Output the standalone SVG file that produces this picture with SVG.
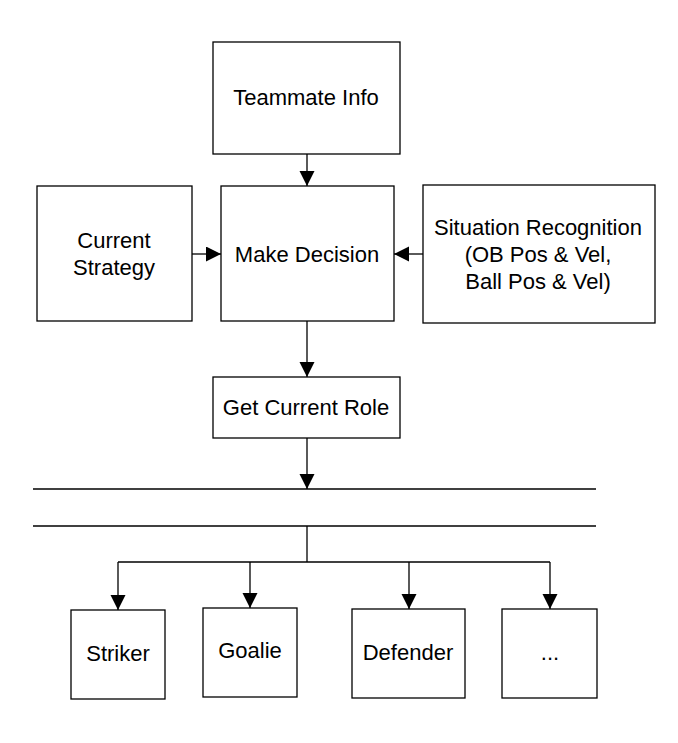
<svg xmlns="http://www.w3.org/2000/svg" width="678" height="743" viewBox="0 0 678 743">
<defs>
<marker id="ah" markerWidth="16" markerHeight="16" refX="15" refY="7.5" orient="auto" markerUnits="userSpaceOnUse"><path d="M0,0 L15,7.5 L0,15 Z" fill="#000"/></marker>
</defs>
<style>
.b{fill:#fff;stroke:#000;stroke-width:1.3}
.t{font-family:"Liberation Sans",Arial,sans-serif;font-size:22px;text-anchor:middle;fill:#000}
.c{stroke:#000;stroke-width:1.3;fill:none}
.a{marker-end:url(#ah)}
</style>
<rect width="678" height="743" fill="#fff"/>
<g id="teammate"><rect class="b" x="213" y="42" width="187" height="112"/><text class="t" x="306" y="105">Teammate Info</text></g>
<g id="strategy"><rect class="b" x="37" y="186" width="155" height="135"/><text class="t" x="114" y="248">Current</text><text class="t" x="114" y="275">Strategy</text></g>
<g id="decision"><rect class="b" x="221" y="186" width="173" height="135"/><text class="t" x="307" y="262">Make Decision</text></g>
<g id="situation"><rect class="b" x="423" y="185" width="232" height="138"/><text class="t" x="538" y="235">Situation Recognition</text><text class="t" x="538" y="262">(OB Pos &amp; Vel,</text><text class="t" x="538" y="289">Ball Pos &amp; Vel)</text></g>
<g id="role"><rect class="b" x="213" y="377" width="187" height="61"/><text class="t" x="306" y="415">Get Current Role</text></g>
<g id="striker"><rect class="b" x="71" y="610" width="94" height="89"/><text class="t" x="118" y="661">Striker</text></g>
<g id="goalie"><rect class="b" x="203" y="608" width="94" height="89"/><text class="t" x="250" y="658">Goalie</text></g>
<g id="defender"><rect class="b" x="352" y="609" width="113" height="89"/><text class="t" x="408" y="660">Defender</text></g>
<g id="more"><rect class="b" x="502" y="609" width="95" height="89"/><text class="t" x="550" y="660">...</text></g>
<g id="bus"><line class="c" x1="33" y1="489" x2="596" y2="489"/><line class="c" x1="33" y1="526" x2="596" y2="526"/></g>
<g id="connectors">
<line class="c a" x1="307" y1="154" x2="307" y2="186"/>
<line class="c a" x1="192" y1="254" x2="221" y2="254"/>
<line class="c a" x1="423" y1="254" x2="394" y2="254"/>
<line class="c a" x1="307" y1="321" x2="307" y2="377"/>
<line class="c a" x1="307" y1="438" x2="307" y2="489"/>
<polyline class="c" points="307,526 307,562"/>
<line class="c" x1="118" y1="562" x2="550" y2="562"/>
<line class="c a" x1="118" y1="562" x2="118" y2="610"/>
<line class="c a" x1="250" y1="562" x2="250" y2="608"/>
<line class="c a" x1="409" y1="562" x2="409" y2="609"/>
<line class="c a" x1="550" y1="562" x2="550" y2="609"/>
</g>
</svg>
